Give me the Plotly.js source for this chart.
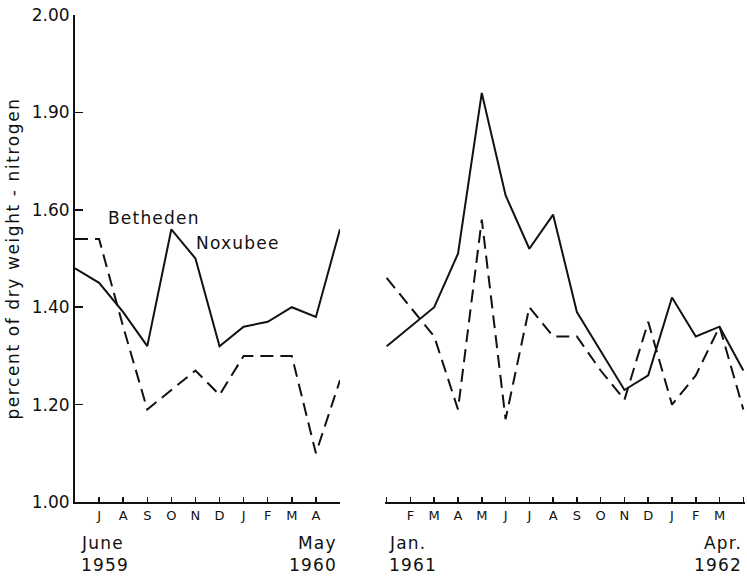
<!DOCTYPE html>
<html>
<head>
<meta charset="utf-8">
<script src="https://cdn.plot.ly/plotly-3.0.1.min.js"></script>
<style>
  html, body { margin: 0; padding: 0; background: #fff; }
  #chart { width: 747px; height: 581px; }
  .ytitle { letter-spacing: 1.6px; }
  .annotation-text { letter-spacing: 1.2px; }
</style>
</head>
<body>
<div id="chart"></div>
<script>
// Period 1: June 1959 - May 1960
var months1959 = ['June 1959','Jul','Aug','Sep','Oct','Nov','Dec','Jan','Feb','Mar','Apr','May 1960'];
var tickText1959 = ['', 'J','A','S','O','N','D','J','F','M','A',''];
var noxubee1959  = [1.48,1.45,1.39,1.32,1.56,1.50,1.32,1.36,1.37,1.40,1.38,1.56];
var betheden1959 = [1.54,1.54,1.36,1.19,1.23,1.27,1.22,1.30,1.30,1.30,1.10,1.25];

// Period 2: Jan 1961 - Apr 1962
var months1961 = ['Jan. 1961','Feb','Mar','Apr','May','Jun','Jul','Aug','Sep','Oct','Nov','Dec','Jan','Feb','Mar','Apr. 1962'];
var tickText1961 = ['', 'F','M','A','M','J','J','A','S','O','N','D','J','F','M',''];
var noxubee1961  = [1.32,1.36,1.40,1.51,1.84,1.63,1.52,1.59,1.39,1.31,1.23,1.26,1.42,1.34,1.36,1.27];
var betheden1961 = [1.46,1.40,1.34,1.19,1.58,1.17,1.40,1.34,1.34,1.27,1.21,1.37,1.20,1.26,1.36,1.19];

var yTickVals = [1.0,1.2,1.4,1.6,1.8,2.0];
var yTickText = ['1.00','1.20','1.40','1.60','1.90','2.00'];

var idx1959 = months1959.map(function(_, i){ return i; });
var idx1961 = months1961.map(function(_, i){ return i; });

var ink = '#111';
var solid = {color: ink, width: 2};
var dashed = {color: ink, width: 2, dash: '13px,7px'};

var traces = [
  {x: idx1959, y: noxubee1959, text: months1959, name: 'Noxubee', mode: 'lines', line: solid, xaxis: 'x', yaxis: 'y'},
  {x: idx1959, y: betheden1959, text: months1959, name: 'Betheden', mode: 'lines', line: dashed, xaxis: 'x', yaxis: 'y'},
  {x: idx1961, y: noxubee1961, text: months1961, name: 'Noxubee', mode: 'lines', line: solid, xaxis: 'x2', yaxis: 'y'},
  {x: idx1961, y: betheden1961, text: months1961, name: 'Betheden', mode: 'lines', line: dashed, xaxis: 'x2', yaxis: 'y'}
];

var fam = 'DejaVu Sans, Liberation Sans, sans-serif';
function f(size){ return {family: fam, color: ink, size: size}; }

var xCommon = {
  ticks: 'inside', ticklen: 5, tickwidth: 1.5, tickcolor: ink,
  showline: true, linewidth: 2, linecolor: ink,
  showgrid: false, zeroline: false, anchor: 'y',
  tickfont: f(13), fixedrange: true
};

var layout = {
  width: 747, height: 581,
  margin: {l: 75, r: 2, t: 15, b: 79},
  paper_bgcolor: '#fff', plot_bgcolor: '#fff',
  showlegend: false,
  font: f(15),
  xaxis: Object.assign({}, xCommon, {
    domain: [0, 0.3955], range: [0, 11],
    tickmode: 'array', tickvals: idx1959, ticktext: tickText1959
  }),
  xaxis2: Object.assign({}, xCommon, {
    domain: [0.4627, 1], range: [-0.07, 15.07],
    tickmode: 'array', tickvals: idx1961, ticktext: tickText1961
  }),
  yaxis: {
    range: [1.0, 2.0], tickmode: 'array', tickvals: yTickVals, ticktext: yTickText,
    ticks: 'inside', ticklen: 8, tickwidth: 1.5, tickcolor: ink,
    showline: true, linewidth: 2, linecolor: ink,
    showgrid: false, zeroline: false, tickfont: f(17),
    title: {text: 'percent of dry weight - nitrogen', font: f(17), standoff: 8},
    automargin: false, fixedrange: true
  },
  annotations: [
    {text: 'Betheden', xref: 'x', yref: 'y', x: 3.28, y: 1.583, showarrow: false, font: f(17)},
    {text: 'Noxubee', xref: 'x', yref: 'y', x: 6.77, y: 1.532, showarrow: false, font: f(17)},
    {text: 'June', xref: 'x', yref: 'paper', x: 0.18, y: -0.084, xanchor: 'left', yanchor: 'middle', showarrow: false, font: f(17)},
    {text: '1959', xref: 'x', yref: 'paper', x: 0.18, y: -0.129, xanchor: 'left', yanchor: 'middle', showarrow: false, font: f(17)},
    {text: 'May', xref: 'x', yref: 'paper', x: 10.95, y: -0.084, xanchor: 'right', yanchor: 'middle', showarrow: false, font: f(17)},
    {text: '1960', xref: 'x', yref: 'paper', x: 10.95, y: -0.129, xanchor: 'right', yanchor: 'middle', showarrow: false, font: f(17)},
    {text: 'Jan.', xref: 'x2', yref: 'paper', x: 0.02, y: -0.084, xanchor: 'left', yanchor: 'middle', showarrow: false, font: f(17)},
    {text: '1961', xref: 'x2', yref: 'paper', x: 0.02, y: -0.129, xanchor: 'left', yanchor: 'middle', showarrow: false, font: f(17)},
    {text: 'Apr.', xref: 'x2', yref: 'paper', x: 15.02, y: -0.084, xanchor: 'right', yanchor: 'middle', showarrow: false, font: f(17)},
    {text: '1962', xref: 'x2', yref: 'paper', x: 15.02, y: -0.129, xanchor: 'right', yanchor: 'middle', showarrow: false, font: f(17)}
  ]
};

Plotly.newPlot('chart', traces, layout, {displayModeBar: false, staticPlot: true});
</script>
</body>
</html>
